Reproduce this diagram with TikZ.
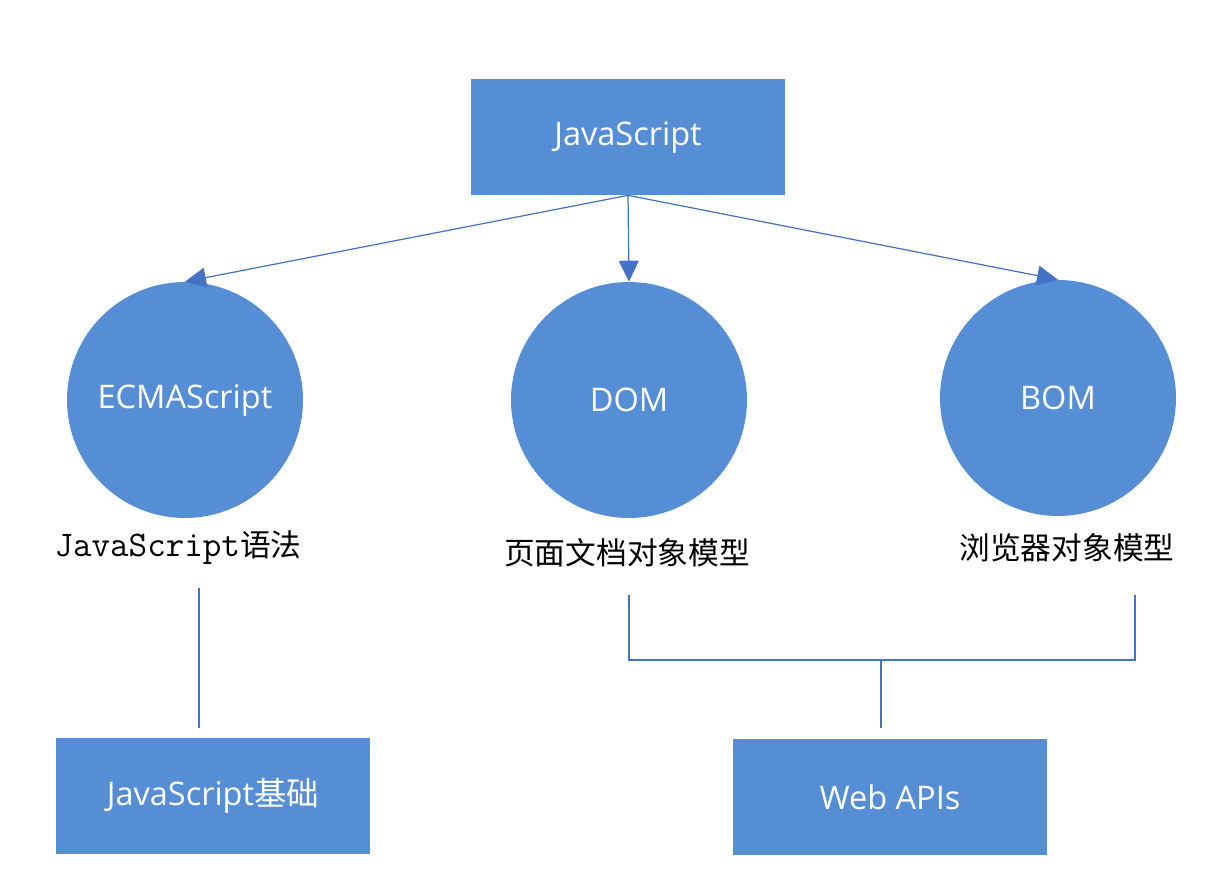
\documentclass[tikz,border=0pt]{standalone}
\usepackage{fontspec}
\setmainfont{Open Sans}
\newfontfamily\cjk{Noto Sans CJK SC}
\usepackage{xcolor}
\definecolor{js_fill}{HTML}{558ED5}
\definecolor{js_line}{HTML}{4472C4}
\usetikzlibrary{shapes.geometric,positioning,calc,arrows.meta}
\tikzset{BOX/.style={rectangle,minimum width=6.28cm,minimum height=2.32cm,fill=js_fill,text=white,font=\fontsize{18.5}{22}\selectfont,inner sep=0pt}}
\tikzset{PART/.style={circle,minimum size=4.72cm,fill=js_fill,text=white,font=\fontsize{18.5}{22}\selectfont,inner sep=0pt}}
\tikzset{LABEL/.style={font=\fontsize{17.5}{20}\selectfont\cjk,inner sep=0pt}}
\tikzset{ARROW/.style={js_line, line width=0.7pt, -{Triangle[length=0.42cm,width=0.4cm]}}}
\tikzset{LINE/.style={js_line, line width=0.7pt}}

\begin{document}
\begin{tikzpicture}[x=0.02cm,y=-0.02cm]

\useasboundingbox (0,0) rectangle (1227,872);

\node[BOX] (n_js) at (628,137) {JavaScript};

\node[PART] (n_ecma) at (185,400) {ECMAScript};
\node[PART] (n_dom) at (629,400) {DOM};
\node[PART] (n_bom) at (1058,398) {BOM};

\draw[ARROW] (n_js.south) -- (n_ecma.north);
\draw[ARROW] (n_js.south) -- (n_dom.north);
\draw[ARROW] (n_js.south) -- (n_bom.north);

\node[LABEL] (l_ecma) at (178,548) {{\fontsize{20.5}{22}\ttfamily JavaScript}语法};
\node[LABEL] (l_dom) at (627,553) {页面文档对象模型};
\node[LABEL] (l_bom) at (1067,548) {浏览器对象模型};

\node[BOX] (n_base) at (213,796) {JavaScript\cjk 基础};
\node[BOX] (n_api) at (890,797) {Web APIs};

% JavaScript basics
\coordinate (c_ecma_top) at (199,588);
\coordinate (c_ecma_bot) at (199,728);
\draw[LINE] (c_ecma_top) -- (c_ecma_bot);

% Web APIs bracket
\coordinate (c_dom_top) at (629,595);
\coordinate (c_bom_top) at (1135,595);
\coordinate (c_join) at (881,660);
\coordinate (c_api_top) at (881,728);
\draw[LINE] (c_dom_top) -- (c_dom_top|-c_join) -- (c_bom_top|-c_join) -- (c_bom_top);
\draw[LINE] (c_join) -- (c_api_top);

\end{tikzpicture}
\end{document}
